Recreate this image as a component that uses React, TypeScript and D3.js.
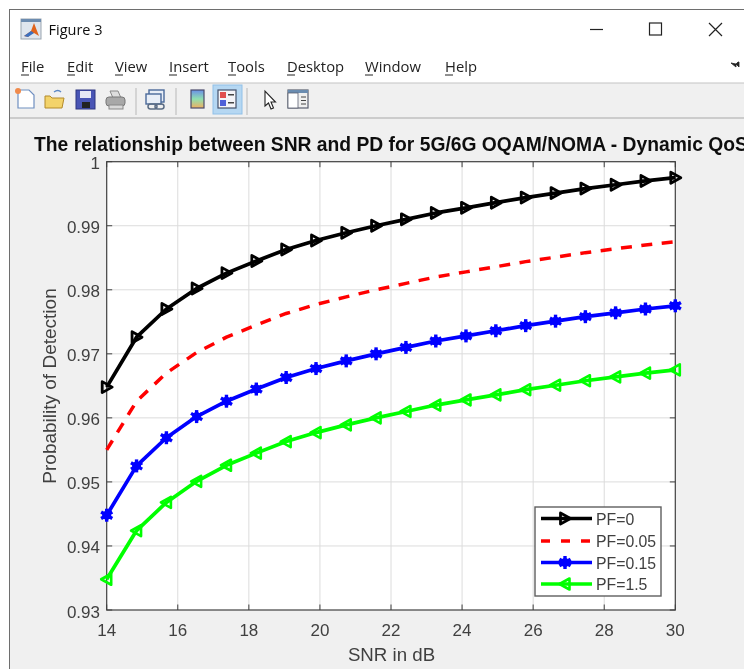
import React from "react";
import * as d3 from "d3";

const snr = [14, 14.84, 15.68, 16.53, 17.37, 18.21, 19.05, 19.89, 20.74, 21.58, 22.42, 23.26, 24.11, 24.95, 25.79, 26.63, 27.47, 28.32, 29.16, 30];
const pf0 = [0.9648, 0.9726, 0.977, 0.9802, 0.9826, 0.9845, 0.9863, 0.9877, 0.9889, 0.99, 0.991, 0.992, 0.9928, 0.9936, 0.9944, 0.9951, 0.9958, 0.9964, 0.997, 0.9975];
const pf005 = [0.955, 0.9626, 0.967, 0.9702, 0.9726, 0.9745, 0.9763, 0.9777, 0.9789, 0.98, 0.981, 0.982, 0.9828, 0.9836, 0.9844, 0.9851, 0.9858, 0.9864, 0.987, 0.9875];
const pf015 = [0.9448, 0.9525, 0.9569, 0.9602, 0.9626, 0.9645, 0.9663, 0.9677, 0.9689, 0.97, 0.971, 0.972, 0.9728, 0.9736, 0.9744, 0.9751, 0.9758, 0.9764, 0.977, 0.9775];
const pf15 = [0.9348, 0.9424, 0.9468, 0.9501, 0.9526, 0.9545, 0.9563, 0.9577, 0.9589, 0.96, 0.961, 0.962, 0.9628, 0.9636, 0.9644, 0.9651, 0.9658, 0.9664, 0.967, 0.9675];
const xTicks = [14, 16, 18, 20, 22, 24, 26, 28, 30];
const yTicks = [0.93, 0.94, 0.95, 0.96, 0.97, 0.98, 0.99, 1];
const menuItems = ["File", "Edit", "View", "Insert", "Tools", "Desktop", "Window", "Help"];
const menuX = [21, 67, 115, 169, 228, 287, 365, 445];
const legendLabels = ["PF=0", "PF=0.05", "PF=0.15", "PF=1.5"];
const colors = ["#000000", "#ff0000", "#0000ff", "#00ff00"];
const series = [pf0, pf005, pf015, pf15];
const markers = ["right", "none", "star", "left"];

const L = 106.7, R = 675.3, T = 161.7, B = 610;
const x = d3.scaleLinear().domain([14, 30]).range([L, R]);
const y = d3.scaleLinear().domain([0.93, 1]).range([B, T]);
const line = d3.line<number>().x((_, i) => x(snr[i])).y((d) => y(d));

const AX = "#404040";
const SANS = "'Liberation Sans', Arial, sans-serif";
const UI = "'Open Sans', 'Noto Sans', sans-serif";

function Marker({ kind, cx, cy, color }: { kind: string; cx: number; cy: number; color: string }) {
  if (kind === "right") {
    return <path d={`M${cx - 4.5},${cy - 5.5}L${cx + 5.5},${cy}L${cx - 4.5},${cy + 5.5}Z`} fill="none" stroke={color} strokeWidth={2.8} strokeLinejoin="round" />;
  }
  if (kind === "left") {
    return <path d={`M${cx + 4.5},${cy - 5.5}L${cx - 5.5},${cy}L${cx + 4.5},${cy + 5.5}Z`} fill="none" stroke={color} strokeWidth={2.6} strokeLinejoin="round" />;
  }
  if (kind === "star") {
    return (
      <g stroke={color} strokeWidth={3.4} strokeLinecap="butt">
        <line x1={cx} y1={cy - 6.5} x2={cx} y2={cy + 6.5} />
        <line x1={cx - 5.6} y1={cy - 3.2} x2={cx + 5.6} y2={cy + 3.2} />
        <line x1={cx - 5.6} y1={cy + 3.2} x2={cx + 5.6} y2={cy - 3.2} />
        <circle cx={cx} cy={cy} r={4.5} fill={color} stroke="none" />
      </g>
    );
  }
  return null;
}

function Toolbar() {
  return (
    <g>
      <path d="M18,90h11l5,5v13h-16z" fill="#fff" stroke="#6f8fc0" strokeWidth={1.2} />
      <circle cx={18} cy={91} r={3} fill="#f08a4b" />
      <path d="M45,96v12h17l2-10h-12l-2-2z" fill="#f3d36b" stroke="#b38a2a" />
      <path d="M54,92q4-3 7,0" fill="none" stroke="#5a87c5" strokeWidth={1.4} />
      <rect x={76} y={90} width={19} height={19} fill="#4a55b5" stroke="#2c3580" />
      <rect x={80} y={91} width={11} height={7} fill="#e6e8f5" />
      <rect x={82} y={102} width={8} height={6} fill="#222" />
      <path d="M110,91l8,0 3,7h-8z" fill="#ddd" stroke="#888" />
      <rect x={106} y={97} width={19} height={9} rx={3} fill="#a8a8a8" stroke="#777" />
      <rect x={109} y={105} width={14} height={4} fill="#d8d8d8" stroke="#888" />
      <line x1={136} y1={88} x2={136} y2={115} stroke="#b8b8b8" />
      <rect x={149} y={90} width={15} height={12} fill="#e8eef7" stroke="#4a6a9a" strokeWidth={1.4} />
      <rect x={146} y={94} width={15} height={10} fill="#e8eef7" stroke="#4a6a9a" strokeWidth={1.4} />
      <rect x={148} y={104} width={9} height={5} rx={2.5} fill="none" stroke="#5b6d85" strokeWidth={1.5} />
      <rect x={155} y={104} width={9} height={5} rx={2.5} fill="none" stroke="#5b6d85" strokeWidth={1.5} />
      <line x1={176} y1={88} x2={176} y2={115} stroke="#b8b8b8" />
      <defs>
        <linearGradient id="cb" x1="0" y1="0" x2="0" y2="1">
          <stop offset="0" stopColor="#6a8fe8" />
          <stop offset="0.5" stopColor="#8fe0b0" />
          <stop offset="1" stopColor="#f0b060" />
        </linearGradient>
      </defs>
      <rect x={191} y={90} width={13} height={18} fill="url(#cb)" stroke="#4a4a6a" strokeWidth={1.2} />
      <rect x={213} y={85} width={29} height={29} fill="#b5d7f2" stroke="#90c0e8" />
      <rect x={218} y={90} width={18} height={18} fill="#f4f4f8" stroke="#44506a" strokeWidth={1.2} />
      <rect x={220} y={92} width={6} height={6} fill="#e05050" />
      <rect x={220} y={100} width={6} height={6} fill="#5060d8" />
      <rect x={228} y={94} width={6} height={1.5} fill="#444" />
      <rect x={228} y={102} width={6} height={1.5} fill="#444" />
      <line x1={247} y1={88} x2={247} y2={115} stroke="#b8b8b8" />
      <path d="M265,91v15l3.5-3 2.5,6 2.5-1-2.5-6h4.5z" fill="#fff" stroke="#222" strokeWidth={1.1} />
      <rect x={288} y={90} width={20} height={18} fill="#f0f0f0" stroke="#5a6070" strokeWidth={1.2} />
      <rect x={288} y={90} width={20} height={3} fill="#6a8cb0" />
      <rect x={288} y={93} width={10} height={15} fill="#fff" stroke="#5a6070" strokeWidth={0.8} />
      <path d="M301,97h5M301,100.5h5M301,104h5" stroke="#444" strokeWidth={1.2} />
    </g>
  );
}

export default function App() {
  const legendY = [518.5, 541, 562.5, 584];
  return (
    <svg
      width={744}
      height={669}
      viewBox="0 0 744 669"
      style={{ position: "absolute", left: 0, top: 0, display: "block", background: "#fff" }}
    >
      <defs>
        <filter id="soft" x="-2%" y="-2%" width="104%" height="104%">
          <feGaussianBlur stdDeviation="0.45" />
        </filter>
      </defs>
      <g filter="url(#soft)">
        <rect x={9.5} y={9.5} width={760} height={680} fill="#fff" stroke="#6e6e6e" strokeWidth={1} />
        <rect x={10} y={83} width={734} height={586} fill="#f0f0f0" />
        <line x1={10} y1={83} x2={744} y2={83} stroke="#c4c4c4" strokeWidth={1.2} />
        <line x1={10} y1={118} x2={744} y2={118} stroke="#a8a8a8" strokeWidth={1.2} />

        <rect x={21} y={19} width={20} height={20} fill="#dfe6ee" stroke="#9aa5b0" />
        <rect x={21} y={19} width={20} height={3} fill="#6c8cb0" />
        <path d="M24,36l7-5 3-8 5,13-5-3-3,1-3,3z" fill="#e0641e" />
        <path d="M24,36l7-5 3,2-6,4z" fill="#3a6fc0" />
        <text x={48.5} y={35} fontFamily={UI} fontSize={14.5} fill="#111">Figure 3</text>
        <line x1={590} y1={29.5} x2={603} y2={29.5} stroke="#222" strokeWidth={1.2} />
        <rect x={649.5} y={23} width={12} height={12} fill="none" stroke="#222" strokeWidth={1.2} />
        <path d="M709,23l13,13M722,23l-13,13" stroke="#222" strokeWidth={1.2} fill="none" />

        {menuItems.map((m, i) => (
          <g key={m}>
            <text x={menuX[i]} y={72} fontFamily={UI} fontSize={14.8} fill="#222">{m}</text>
            <line x1={menuX[i]} y1={75} x2={menuX[i] + 8} y2={75} stroke="#222" strokeWidth={1} />
          </g>
        ))}
        <path d="M731,63l5,4v-3l3,3v-5h-1l-2,2z" fill="#222" stroke="#222" strokeWidth={0.8} />

        <Toolbar />

        <text x={34} y={151} fontFamily={SANS} fontSize={19.3} fontWeight={700} fill="#111">
          The relationship between SNR and PD for 5G/6G OQAM/NOMA - Dynamic QoS
        </text>

        <rect x={L} y={T} width={R - L} height={B - T} fill="#fff" />
        {xTicks.slice(1, -1).map((t) => (
          <line key={t} x1={x(t)} x2={x(t)} y1={T} y2={B} stroke="#dcdcdc" strokeWidth={1} />
        ))}
        {yTicks.slice(1, -1).map((t) => (
          <line key={t} x1={L} x2={R} y1={y(t)} y2={y(t)} stroke="#dcdcdc" strokeWidth={1} />
        ))}
        {xTicks.map((t) => (
          <g key={t}>
            <line x1={x(t)} x2={x(t)} y1={B} y2={B - 5.5} stroke={AX} />
            <line x1={x(t)} x2={x(t)} y1={T} y2={T + 5.5} stroke={AX} />
            <text x={x(t)} y={636} textAnchor="middle" fontFamily={SANS} fontSize={17} fill={AX}>{t}</text>
          </g>
        ))}
        {yTicks.map((t) => (
          <g key={t}>
            <line x1={L} x2={L + 5.5} y1={y(t)} y2={y(t)} stroke={AX} />
            <line x1={R} x2={R - 5.5} y1={y(t)} y2={y(t)} stroke={AX} />
            <text x={100} y={y(t) + 7.5} textAnchor="end" fontFamily={SANS} fontSize={17} fill={AX}>{t}</text>
          </g>
        ))}
        <rect x={L} y={T} width={R - L} height={B - T} fill="none" stroke={AX} strokeWidth={1.2} />
        <text x={391.5} y={661} textAnchor="middle" fontFamily={SANS} fontSize={18.7} fill={AX}>SNR in dB</text>
        <text transform="translate(55.5,386) rotate(-90)" textAnchor="middle" fontFamily={SANS} fontSize={19} fill={AX}>Probability of Detection</text>

        {series.map((s, k) => (
          <g key={k}>
            <path
              d={line(s) ?? ""}
              fill="none"
              stroke={colors[k]}
              strokeWidth={k === 1 ? 3.5 : 3.7}
              strokeDasharray={k === 1 ? "11 9.5" : undefined}
              strokeLinejoin="round"
            />
            {markers[k] !== "none" && s.map((v, i) => (
              <Marker key={i} kind={markers[k]} cx={x(snr[i])} cy={y(v)} color={colors[k]} />
            ))}
          </g>
        ))}

        <rect x={535} y={507} width={126} height={89} fill="#fff" stroke="#5f5f5f" strokeWidth={1.4} />
        {legendLabels.map((lab, k) => (
          <g key={lab}>
            <line
              x1={541}
              x2={592}
              y1={legendY[k]}
              y2={legendY[k]}
              stroke={colors[k]}
              strokeWidth={3.7}
              strokeDasharray={k === 1 ? "9 11" : undefined}
            />
            <Marker kind={markers[k]} cx={565} cy={legendY[k]} color={colors[k]} />
            <text x={596} y={legendY[k] + 6} fontFamily={SANS} fontSize={15.8} fill={AX}>{lab}</text>
          </g>
        ))}
      </g>
    </svg>
  );
}
